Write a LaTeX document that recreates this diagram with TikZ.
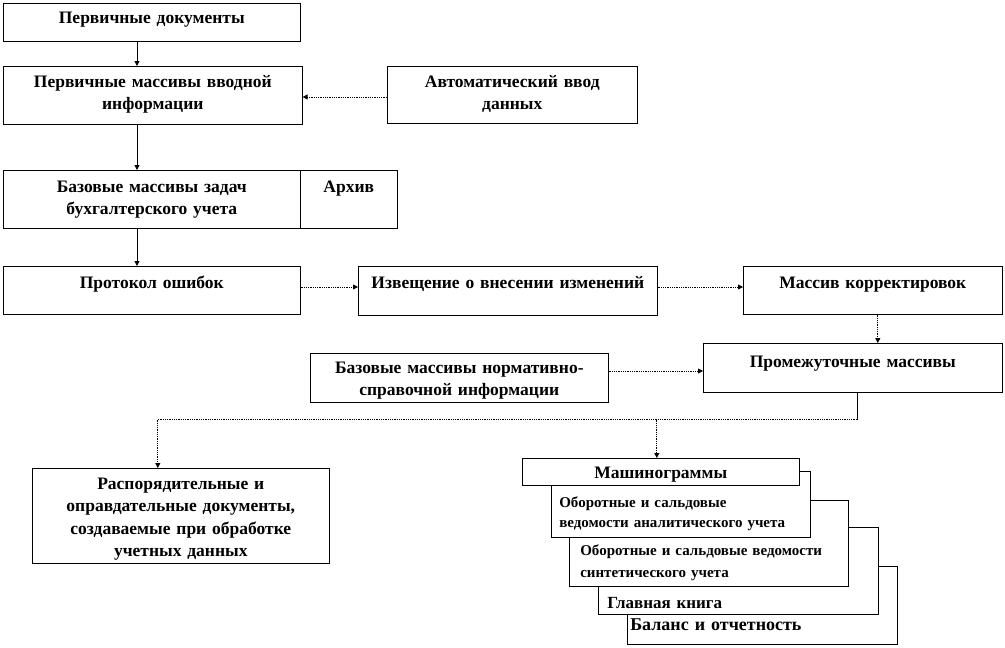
\documentclass[tikz,border=0pt]{standalone}
\usepackage{fontspec}
\setmainfont{Liberation Serif}
\usetikzlibrary{arrows.meta}

\begin{document}
\begin{tikzpicture}[x=1pt,y=-1pt,
  box/.style={draw,line width=0.6pt,fill=white,inner xsep=0pt,inner ysep=0pt,align=center,anchor=north west,font=\bfseries\fontsize{17.5}{22.5}\selectfont},
  leftbox/.style={box,align=left,font=\bfseries\fontsize{15}{20.5}\selectfont},
  solidarrow/.style={line width=0.8pt,-{Triangle[length=5pt,width=5pt]}},
  dotarrow/.style={line width=0.8pt,densely dotted,-{Triangle[length=5pt,width=5pt]}},
  dotline/.style={line width=0.8pt,densely dotted}]
\useasboundingbox (0,0) rectangle (1005,648);

\node[box,text width=297pt,text height=20pt,text depth=18pt] (perv) at (3,3) {Первичные документы};
\node[box,text width=299pt,text height=21pt,text depth=37pt] (vvod) at (3,66) {Первичные массивы вводной\\информации};
\node[box,text width=250pt,text height=21pt,text depth=36pt] (auto) at (387,66) {Автоматический ввод\\данных};
\node[box,text width=297pt,text height=22pt,text depth=36pt] (zadach) at (3,170) {Базовые массивы задач\\бухгалтерского учета};
\node[box,text width=97pt,text height=22pt,text depth=36pt] (arhiv) at (300,170) {Архив};
\node[box,text width=297pt,text height=22pt,text depth=26pt] (prot) at (3,266) {Протокол ошибок};
\node[box,text width=299pt,text height=22pt,text depth=27pt] (izv) at (358,266) {Извещение о внесении изменений};
\node[box,text width=259pt,text height=22pt,text depth=26pt] (korr) at (743,266) {Массив корректировок};
\node[box,text width=299pt,text height=24pt,text depth=25pt] (prom) at (703,343) {Промежуточные массивы};
\node[box,text width=298pt,text height=20pt,text depth=29pt] (nsi) at (310,353) {Базовые массивы нормативно-\\справочной информации};
\node[box,text width=297pt,text height=21pt,text depth=74pt] (rasp) at (32,468) {Распорядительные и\\оправдательные документы,\\создаваемые при обработке\\учетных данных};

\node[leftbox,inner xsep=3pt,text width=264pt,text height=64pt,text depth=14pt,font=\bfseries\fontsize{18}{20}\selectfont] (balans) at (627,566) {Баланс и отчетность};
\node[leftbox,inner xsep=9pt,text width=262pt,text height=81pt,text depth=6pt,font=\bfseries\fontsize{17}{20}\selectfont] (kniga) at (598,527) {Главная книга};
\node[leftbox,inner xsep=11pt,text width=257pt,text height=55pt,text depth=31pt,font=\bfseries\fontsize{15}{22}\selectfont] (sint) at (569,500) {Оборотные и сальдовые ведомости\\синтетического учета};
\node[leftbox,inner xsep=8pt,text width=243pt,text height=36pt,text depth=30pt] (anal) at (551,471) {Оборотные и сальдовые\\ведомости аналитического учета};
\node[box,text width=277pt,text height=20pt,text depth=7pt] (mash) at (522,458) {Машинограммы};

\draw[solidarrow] ([xshift=134pt]perv.south west) -- ([xshift=134pt]vvod.north west);
\draw[dotarrow] ([yshift=-31pt]auto.north west) -- ([yshift=-31pt]auto.north west -| vvod.east);
\draw[solidarrow] ([xshift=134pt]vvod.south west) -- ([xshift=134pt]zadach.north west);
\draw[solidarrow] ([xshift=134pt]zadach.south west) -- ([xshift=134pt]prot.north west);
\draw[dotarrow] ([yshift=-21pt]prot.north east) -- ([yshift=-21pt]prot.north east -| izv.west);
\draw[dotarrow] ([yshift=-21pt]izv.north east) -- ([yshift=-21pt]izv.north east -| korr.west);
\draw[dotarrow] ([xshift=5pt]korr.south) -- ([xshift=5pt]korr.south |- prom.north);
\draw[dotarrow] ([yshift=-18pt]nsi.north east) -- ([yshift=-18pt]nsi.north east -| prom.west);

\coordinate (razv) at ([xshift=154pt,yshift=-27pt]prom.south west);
\draw[line width=0.8pt] (razv |- prom.south) -- (razv);
\draw[dotline] (razv) -- ([xshift=-23pt]razv -| rasp.north);
\draw[dotarrow] ([xshift=-23pt]razv -| rasp.north) -- ([xshift=-23pt]rasp.north);
\draw[dotarrow] ([xshift=-4pt]razv -| mash.north) -- ([xshift=-4pt]mash.north);

\end{tikzpicture}
\end{document}
